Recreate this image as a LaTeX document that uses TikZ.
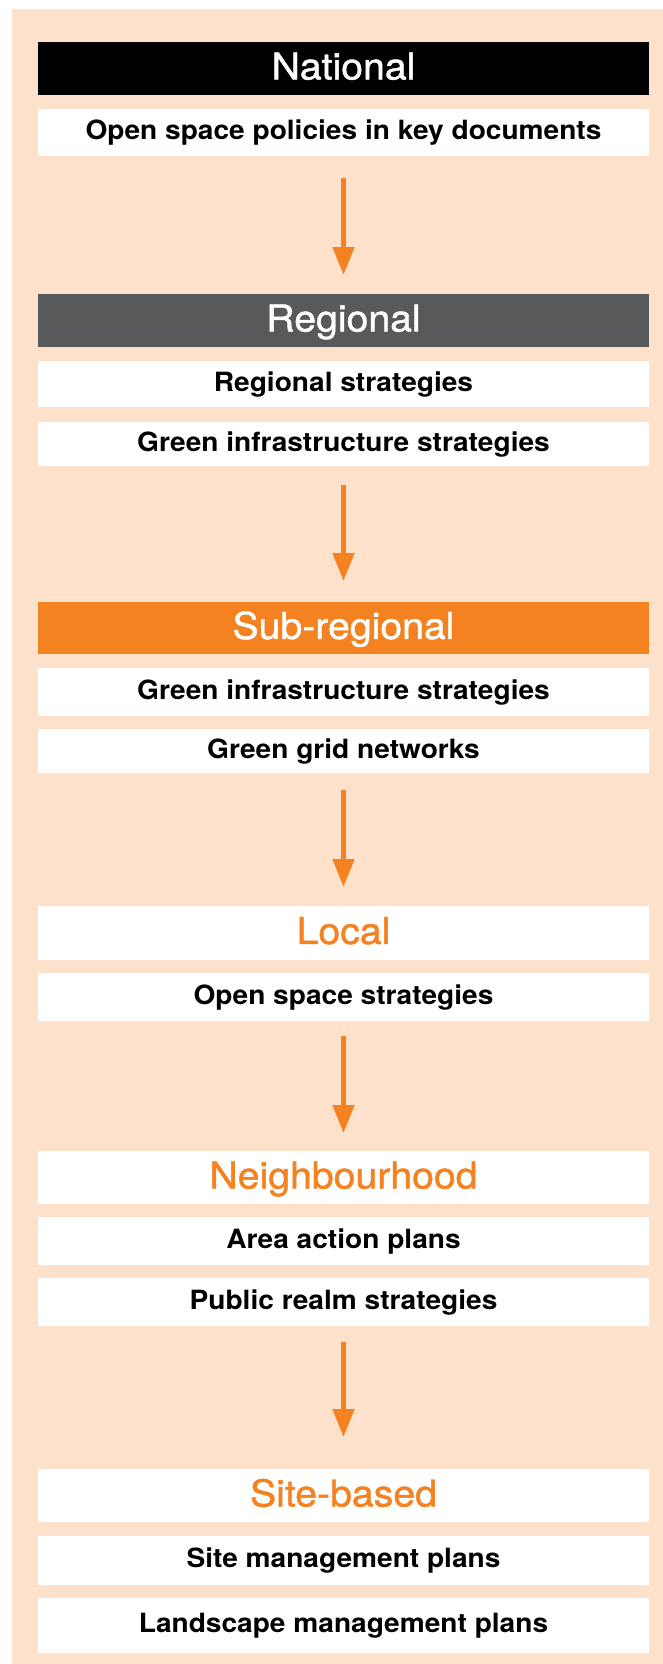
\documentclass[tikz,border=0pt]{standalone}
\usepackage{fontspec}
\setmainfont[FakeStretch=1.06]{TeX Gyre Heros}
\usetikzlibrary{arrows.meta}
\definecolor{peach}{HTML}{FDE1CB}
\definecolor{planorange}{HTML}{F58220}
\definecolor{slate}{HTML}{58595B}
\tikzset{
  tierhead/.style={anchor=north, minimum width=611pt, minimum height=53pt, inner sep=0pt,
    text height=26.5pt, text depth=5pt, font=\fontsize{37}{40}\selectfont\addfontfeatures{FakeBold=1.2}},
  tieritem/.style={anchor=north, fill=white, minimum width=611pt, minimum height=47pt, inner sep=0pt,
    text height=19pt, text depth=5pt, font=\fontsize{26.5}{30}\selectfont\bfseries},
  flow/.style={planorange, line width=5pt, -{Triangle[length=28pt,width=21pt]}}
}
\begin{document}
\begin{tikzpicture}[x=1pt,y=-1pt]
\useasboundingbox (0,0) rectangle (663,1664);
\fill[peach] (12,9) rectangle (663,1664);
% national
\node[tierhead, fill=black, text=white] (nat) at (343.5,42) {National};
\node[tieritem] (natpol) at (343.5,109) {Open space policies in key documents};
% regional
\node[tierhead, fill=slate, text=white] (reg) at (343.5,294) {Regional};
\node[tieritem, minimum height=46pt] (regstr) at (343.5,361) {Regional strategies};
\node[tieritem, minimum height=44pt] (reggi) at (343.5,422) {Green infrastructure strategies};
% sub-regional
\node[tierhead, fill=planorange, text=white, minimum height=52pt] (sub) at (343.5,602) {Sub-regional};
\node[tieritem, minimum height=48pt] (subgi) at (343.5,668) {Green infrastructure strategies};
\node[tieritem, minimum height=44pt] (subgrid) at (343.5,729) {Green grid networks};
% local
\node[tierhead, fill=white, text=planorange, minimum height=54pt] (loc) at (343.5,906) {Local};
\node[tieritem, minimum height=48pt] (locos) at (343.5,973) {Open space strategies};
% neighbourhood
\node[tierhead, fill=white, text=planorange] (nbh) at (343.5,1151) {Neighbourhood};
\node[tieritem, minimum height=48pt] (nbhaap) at (343.5,1217) {Area action plans};
\node[tieritem, minimum height=48pt] (nbhpub) at (343.5,1278) {Public realm strategies};
% site-based
\node[tierhead, fill=white, text=planorange] (site) at (343.5,1469) {Site-based};
\node[tieritem, minimum height=49pt] (sitemgt) at (343.5,1536) {Site management plans};
\node[tieritem, minimum height=55pt] (sitels) at (343.5,1598) {Landscape management plans};
% arrows
\draw[flow, shorten <=22pt, shorten >=19pt] (natpol) -- (reg);
\draw[flow, shorten <=19pt, shorten >=21pt] (reggi) -- (sub);
\draw[flow, shorten <=17pt, shorten >=19pt] (subgrid) -- (loc);
\draw[flow, shorten <=15pt, shorten >=18pt] (locos) -- (nbh);
\draw[flow, shorten <=16pt, shorten >=32pt] (nbhpub) -- (site);
\end{tikzpicture}
\end{document}
